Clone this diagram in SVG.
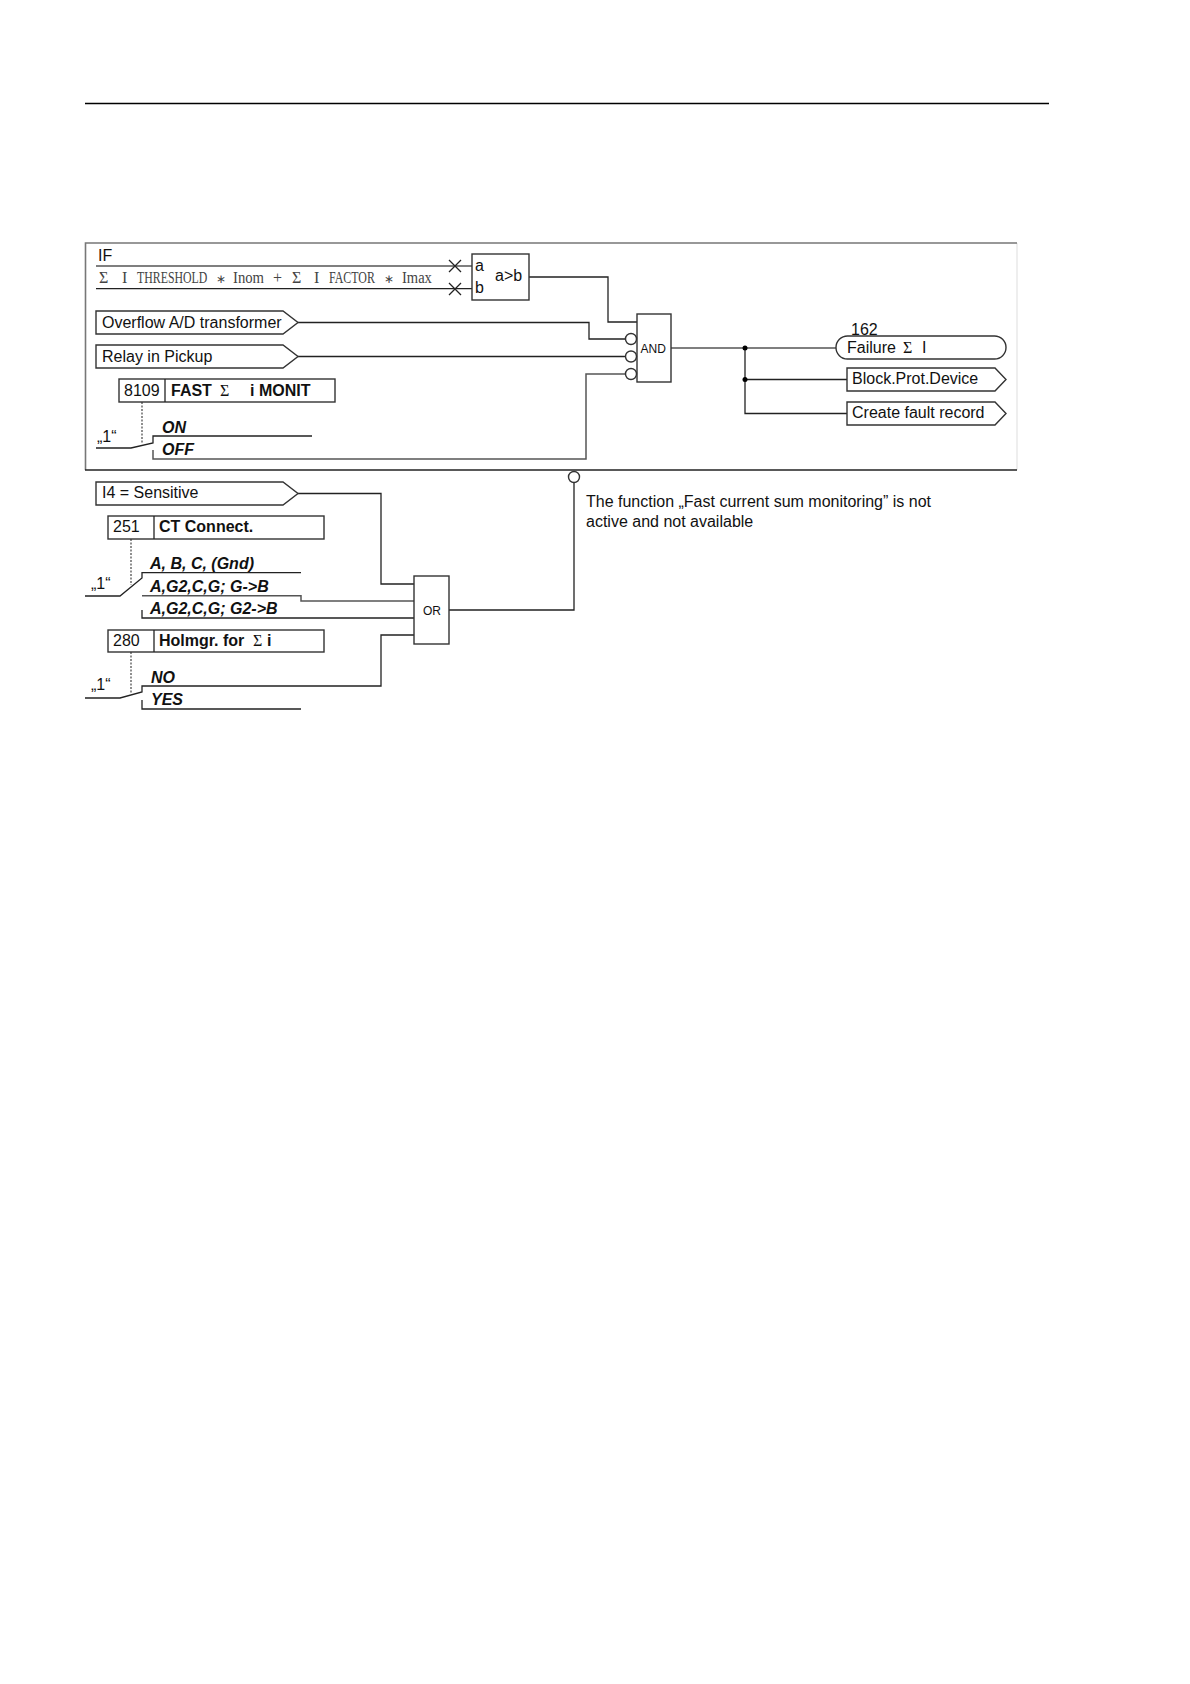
<svg xmlns="http://www.w3.org/2000/svg" width="1190" height="1684" viewBox="0 0 1190 1684">
<style>
text{font-family:"Liberation Sans",Arial,sans-serif;font-size:16px;fill:#111}
.b{font-weight:bold}
.bi{font-weight:bold;font-style:italic}
.s{font-family:"Liberation Serif","Times New Roman",serif}
.t{font-family:"Liberation Serif","Times New Roman",serif;fill:#444}
.sm{font-size:12px}
.ln{fill:none;stroke:#222;stroke-width:1.3}
.g{fill:none;stroke:#555;stroke-width:1.5}
.bx{fill:#fff;stroke:#333;stroke-width:1.4}
.d{fill:none;stroke:#444;stroke-width:1.2;stroke-dasharray:2 1.5}
</style>
<rect width="1190" height="1684" fill="#fff"/>
<g id="page-rule"><line x1="85" y1="103.500" x2="1049" y2="103.500" stroke="#000" stroke-width="1.600"/></g>
<g id="frame">
<line x1="1017" y1="243" x2="1017" y2="470" stroke="#ddd" stroke-width="1"/>
<path d="M85.500 470V243H1017" fill="none" stroke="#777" stroke-width="1.600"/>
<line x1="85" y1="470" x2="1017" y2="470" stroke="#222" stroke-width="1.300"/>
</g>
<g id="connectors">
<path class="g" d="M96 266H472"/>
<path class="ln" d="M96 288.700H472"/>
<path class="ln" d="M449 260L461 272M461 260L449 272M449 283L461 295M461 283L449 295"/>
<path class="ln" d="M529 277H608V322H637"/>
<path class="ln" d="M298 322.500H589V339H626"/>
<path class="ln" d="M298 356.500H626"/>
<path class="g" d="M626 374H586V459H153V450"/>
<path class="ln" d="M312 436H153V443L131 448H96"/>
<path class="d" d="M142 402V444"/>
<path class="g" d="M671 348H836"/>
<path class="ln" d="M745 348V413.500H847M745 379.500H847"/>
<circle cx="745" cy="348" r="2.500" fill="#000"/>
<circle cx="745" cy="379.500" r="2.500" fill="#000"/>
<path class="ln" d="M574 482.500V610H449"/>
<path class="ln" d="M298 493.500H381V584H414"/>
<path class="d" d="M131 539V585"/>
<path class="ln" d="M85 596H120L142 578V572.600H301"/>
<path class="g" d="M142 595.700H301V601H414"/>
<path class="ln" d="M142 610V618H414"/>
<path class="d" d="M131 652V694"/>
<path class="ln" d="M85 698H120L142 692V686H381V635H414"/>
<path class="ln" d="M142 700V709H301"/>
</g>
<g id="cmp-ab">
<rect class="bx" x="472" y="254" width="57" height="46"/>
<text x="475" y="271">a</text><text x="475" y="293">b</text><text x="495" y="281">a&gt;b</text>
</g>
<g id="input-if"><text x="98" y="261">IF</text></g>
<g id="input-threshold">
<text class="t" x="99" y="283">Σ</text><text class="t" x="122" y="283">I</text>
<text class="t" transform="translate(137 283) scale(.74 1)">THRESHOLD</text>
<text class="t" x="216" y="283" style="font-size:12px">∗</text>
<text class="t" transform="translate(233 283) scale(.92 1)">Inom</text>
<text class="t" x="273" y="283">+</text>
<text class="t" x="292" y="283">Σ</text><text class="t" x="314" y="283">I</text>
<text class="t" transform="translate(329 283) scale(.745 1)">FACTOR</text>
<text class="t" x="384" y="283" style="font-size:12px">∗</text>
<text class="t" transform="translate(402 283) scale(.91 1)">Imax</text>
</g>
<g id="tag-overflow"><path class="bx" d="M96 311H283L298 322.500L283 334H96Z"/><text x="102" y="327.500">Overflow A/D transformer</text></g>
<g id="tag-pickup"><path class="bx" d="M96 345H283L298 356.500L283 368H96Z"/><text x="102" y="361.500">Relay in Pickup</text></g>
<g id="setting-8109">
<rect class="bx" x="119" y="379" width="216" height="23"/><line class="ln" x1="165" y1="379" x2="165" y2="402"/>
<text x="124" y="395.500">8109</text><text class="b" x="171" y="395.500">FAST</text><text class="s" x="220" y="395.500">Σ</text><text class="b" x="250" y="395.500">i MONIT</text>
<text x="97" y="442">„1“</text>
<text class="bi" x="162" y="433">ON</text><text class="bi" x="162" y="455">OFF</text>
</g>
<g id="gate-and">
<rect class="bx" x="637" y="314" width="34" height="68"/>
<circle class="bx" cx="631" cy="339" r="5.500"/><circle class="bx" cx="631" cy="356.500" r="5.500"/><circle class="bx" cx="631" cy="374" r="5.500"/>
<text class="sm" x="640.500" y="353">AND</text>
</g>
<g id="out-failure">
<text x="851" y="335">162</text>
<rect class="bx" x="836" y="336" width="170" height="23" rx="11.500"/>
<text x="847" y="353">Failure</text><text class="s" x="903" y="353">Σ</text><text x="922" y="353">I</text>
</g>
<g id="out-block"><path class="bx" d="M847 368H995L1006 379.500L995 391H847Z"/><text x="852" y="384">Block.Prot.Device</text></g>
<g id="out-record"><path class="bx" d="M847 402H995L1006 413.500L995 425H847Z"/><text x="852" y="418">Create fault record</text></g>
<g id="not-available">
<circle class="bx" cx="574" cy="477" r="5.500"/>
<text x="586" y="507">The function „Fast current sum monitoring” is not</text>
<text x="586" y="527">active and not available</text>
</g>
<g id="tag-i4"><path class="bx" d="M96 482H283L298 493.500L283 505H96Z"/><text x="102" y="498">I4 = Sensitive</text></g>
<g id="setting-251">
<rect class="bx" x="108" y="516" width="216" height="23"/><line class="ln" x1="154" y1="516" x2="154" y2="539"/>
<text x="113" y="532">251</text><text class="b" x="159" y="532">CT Connect.</text>
<text x="91" y="589">„1“</text>
<text class="bi" x="150" y="569">A, B, C, (Gnd)</text>
<text class="bi" x="150" y="592">A,G2,C,G; G-&gt;B</text>
<text class="bi" x="150" y="614">A,G2,C,G; G2-&gt;B</text>
</g>
<g id="setting-280">
<rect class="bx" x="108" y="630" width="216" height="22"/><line class="ln" x1="154" y1="630" x2="154" y2="652"/>
<text x="113" y="646">280</text><text class="b" x="159" y="646">Holmgr. for</text><text class="s" x="253" y="646">Σ</text><text class="b" x="267" y="646">i</text>
<text x="91" y="690">„1“</text>
<text class="bi" x="151" y="683">NO</text><text class="bi" x="151" y="705">YES</text>
</g>
<g id="gate-or">
<rect class="bx" x="414" y="576" width="35" height="68"/>
<text class="sm" x="423" y="615">OR</text>
</g>
</svg>
